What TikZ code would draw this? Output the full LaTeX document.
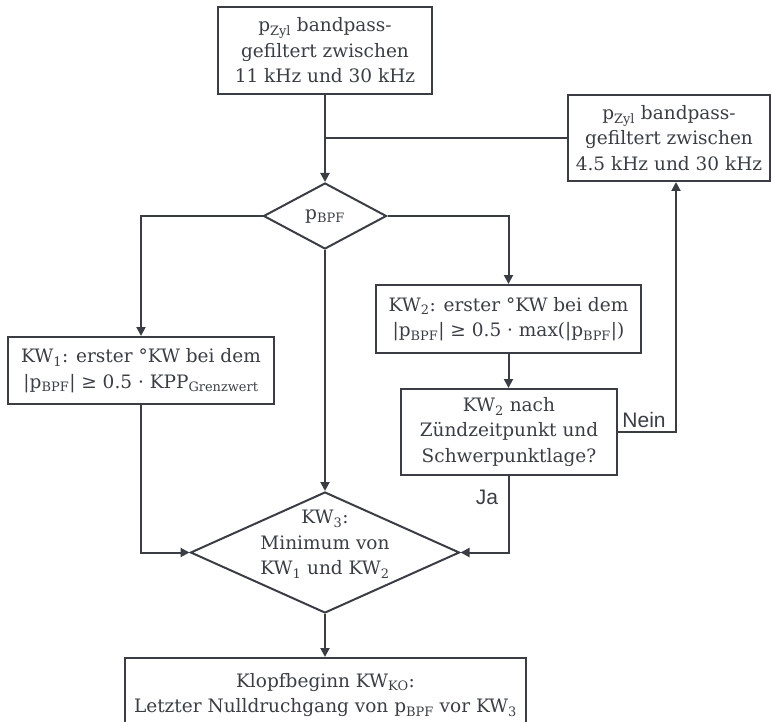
\documentclass[tikz,border=0pt]{standalone}
\usepackage{fontspec}
\setmainfont{DejaVu Serif}
\newfontfamily\sansf{Liberation Sans}
\usetikzlibrary{shapes.geometric,arrows.meta}
\definecolor{lc}{RGB}{58,62,68}
\newcommand\lowidx[1]{\textsubscript{#1}}
\newcommand\mainsize{\fontsize{18.5pt}{25.5pt}\selectfont}
\tikzset{
  txt/.style={align=center, text=lc, font=\mainsize, inner sep=0pt},
  box/.style={txt, draw=lc, line width=2pt, rectangle},
  dia/.style={draw=lc, line width=2pt, diamond, inner sep=0pt},
  ln/.style={draw=lc, line width=2pt},
  arr/.style={ln, -{Triangle[length=9pt,width=9pt]}},
  yn/.style={text=lc, font=\sansf\fontsize{21pt}{25pt}\selectfont, inner sep=0pt, anchor=base}
}
\begin{document}
\begin{tikzpicture}[x=1pt,y=-1pt]
\useasboundingbox (0,0) rectangle (773,722);
\clip (0,0) rectangle (773,722);
\node[box, minimum width=214pt, minimum height=87pt] (top) at (325,50.5)
  {p\lowidx{Zyl} bandpass-\\gefiltert zwischen\\11 kHz und 30 kHz};
\node[box, minimum width=202pt, minimum height=86pt] (bp2) at (669,138)
  {p\lowidx{Zyl} bandpass-\\gefiltert zwischen\\4.5 kHz und 30 kHz};
\node[dia, minimum width=123pt, minimum height=66pt,
  label={[txt]center:p\lowidx{BPF}}] (d1) at (325,216) {};
\node[box, minimum width=266pt, minimum height=67pt] (kw1) at (141,370.5)
  {KW\lowidx{1}: erster °KW bei dem\\|p\lowidx{BPF}| ≥ 0.5 · KPP\lowidx{Grenzwert}};
\node[box, minimum width=265pt, minimum height=68pt] (kw2) at (508.5,319)
  {KW\lowidx{2}: erster °KW bei dem\\|p\lowidx{BPF}| ≥ 0.5 · max(|p\lowidx{BPF}|)};
\node[box, minimum width=216pt, minimum height=86pt] (chk) at (509,432)
  {KW\lowidx{2} nach\\Zündzeitpunkt und\\Schwerpunktlage?};
\node[dia, minimum width=269pt, minimum height=121pt,
  label={[txt,yshift=8pt]center:{KW\lowidx{3}:\\Minimum von\\KW\lowidx{1} und KW\lowidx{2}}}] (d3) at (325,552.5) {};
\node[box, minimum width=401pt, minimum height=74pt] (ko) at (325.5,695)
  {Klopfbeginn KW\lowidx{KO}:\\Letzter Nulldruchgang von p\lowidx{BPF} vor KW\lowidx{3}};
\coordinate (nb) at (676,432);
\draw[arr] (top.south) -- (d1.north);
\draw[ln] (bp2.west) -- (bp2.west -| top.south);
\draw[arr] (d1.west) -| (kw1.north);
\draw[arr] (d1.east) -| (kw2.north);
\draw[arr] (d1.south) -- (d3.north);
\draw[arr] (kw1.south) |- (d3.west);
\draw[arr] (kw2.south) -- (kw2.south |- chk.north);
\draw[arr] (chk.east) -- (nb) -- (nb |- bp2.south);
\draw[arr] (chk.south) |- (d3.east);
\draw[arr] (d3.south) -- (d3.south |- ko.north);
\node[yn] (nein) at (644,427) {Nein};
\node[yn] (ja) at (487,504) {Ja};
\end{tikzpicture}
\end{document}
